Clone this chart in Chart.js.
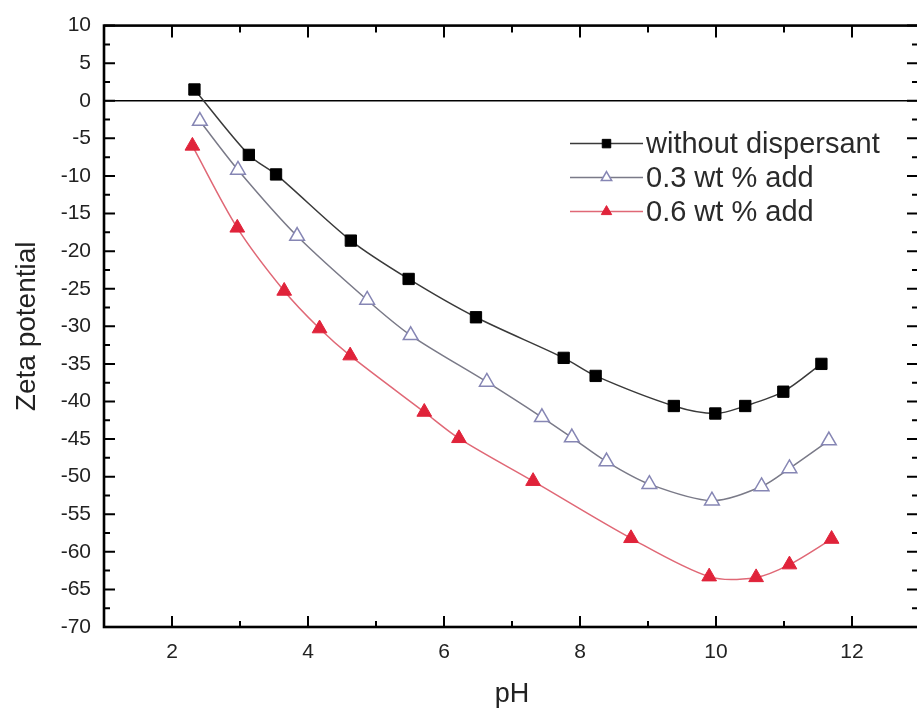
<!DOCTYPE html>
<html>
<head>
<meta charset="utf-8">
<title>Zeta potential vs pH</title>
<script src="https://cdn.jsdelivr.net/npm/chart.js@4.4.1/dist/chart.umd.min.js"></script>
<style>
    html, body { margin: 0; padding: 0; background: #ffffff; overflow: hidden; }
    #zetaChart { display: block; }
</style>
</head>
<body>
<canvas id="zetaChart" width="920" height="712"></canvas>
<script>
// measured points: pH and zeta potential (mV) for each dispersant dose
const seriesNames = ['without dispersant', '0.3 wt % add', '0.6 wt % add'];

const phNone = [2.33, 3.13, 3.53, 4.63, 5.48, 6.47, 7.76, 8.23, 9.38, 9.99, 10.43, 10.99, 11.55];
const zetaNone = [1.5, -7.2, -9.8, -18.6, -23.7, -28.8, -34.2, -36.6, -40.6, -41.6, -40.6, -38.7, -35.0];

const ph03 = [2.41, 2.97, 3.84, 4.87, 5.51, 6.63, 7.44, 7.88, 8.39, 9.02, 9.94, 10.67, 11.08, 11.66];
const zeta03 = [-2.7, -9.2, -18.0, -26.5, -31.2, -37.4, -42.1, -44.8, -48.0, -51.0, -53.2, -51.3, -48.9, -45.2];

const ph06 = [2.30, 2.96, 3.65, 4.17, 4.62, 5.71, 6.22, 7.31, 8.75, 9.90, 10.59, 11.08, 11.70];
const zeta06 = [-6.0, -16.9, -25.3, -30.3, -33.9, -41.4, -44.9, -50.6, -58.2, -63.3, -63.4, -61.7, -58.3];

const xMin = 1, xMax = 13, xStep = 1;
const yMin = -70, yMax = 10, yStep = 5;

const FONT = '"Liberation Sans", Arial, sans-serif';

function toPoints(xs, ys) {
    return xs.map((x, i) => ({ x: x, y: ys[i] }));
}

// zero line under the curves
const zeroLine = {
    id: 'zeroLine',
    beforeDatasetsDraw(chart) {
        const { ctx, chartArea, scales } = chart;
        const y = scales.y.getPixelForValue(0);
        ctx.save();
        ctx.strokeStyle = '#000';
        ctx.lineWidth = 1.6;
        ctx.beginPath();
        ctx.moveTo(chartArea.left, y);
        ctx.lineTo(chartArea.right, y);
        ctx.stroke();
        ctx.restore();
    }
};

// box frame with inward ticks on all four sides
const frameTicks = {
    id: 'frameTicks',
    afterDatasetsDraw(chart) {
        const { ctx, chartArea, scales } = chart;
        const { left, right, top, bottom } = chartArea;
        const majorLen = 11, minorLen = 6;

        ctx.save();
        ctx.strokeStyle = '#000';
        ctx.lineWidth = 2;

        for (let v = xMin; v <= xMax + 1e-9; v += xStep) {
            const px = scales.x.getPixelForValue(v);
            const len = (v % 2 === 0) ? majorLen : minorLen;
            ctx.beginPath();
            ctx.moveTo(px, bottom);
            ctx.lineTo(px, bottom - len);
            ctx.moveTo(px, top);
            ctx.lineTo(px, top + len + 1);
            ctx.stroke();
        }

        for (let v = yMin; v <= yMax + 1e-9; v += yStep / 2) {
            const py = scales.y.getPixelForValue(v);
            const len = (v % yStep === 0) ? majorLen : minorLen;
            ctx.beginPath();
            ctx.moveTo(left, py);
            ctx.lineTo(left + len, py);
            ctx.moveTo(right, py);
            ctx.lineTo(right - len - 2, py);
            ctx.stroke();
        }

        ctx.lineWidth = 2.6;
        ctx.strokeRect(left, top, right - left, bottom - top);
        ctx.restore();
    }
};

// legend with line-marker-line samples
const sampleLegend = {
    id: 'sampleLegend',
    afterDraw(chart) {
        const { ctx, chartArea } = chart;
        const x0 = chartArea.left + 466;
        const y0 = chartArea.top + 118;
        const rowGap = 34;
        const lineLen = 73;

        ctx.save();
        chart.data.datasets.forEach((ds, i) => {
            const y = y0 + i * rowGap;
            ctx.strokeStyle = ds.borderColor;
            ctx.lineWidth = 1.5;
            ctx.beginPath();
            ctx.moveTo(x0, y);
            ctx.lineTo(x0 + lineLen, y);
            ctx.stroke();

            ctx.fillStyle = ds.pointBackgroundColor;
            ctx.strokeStyle = ds.pointBorderColor;
            ctx.lineWidth = ds.pointBorderWidth;
            Chart.helpers.drawPoint(ctx, {
                pointStyle: ds.pointStyle,
                radius: 6,
                rotation: 0,
                borderWidth: ds.pointBorderWidth
            }, x0 + lineLen / 2, y);

            ctx.fillStyle = '#2a2a2a';
            ctx.font = '29px ' + FONT;
            ctx.textBaseline = 'middle';
            ctx.textAlign = 'left';
            ctx.fillText(ds.label, x0 + lineLen + 3, y + 1);
        });
        ctx.restore();
    }
};

const ctx = document.getElementById('zetaChart').getContext('2d');

new Chart(ctx, {
    type: 'line',
    data: {
        datasets: [
            {
                label: seriesNames[0],
                data: toPoints(phNone, zetaNone),
                borderColor: '#3a3a3a',
                borderWidth: 1.5,
                tension: 0.3,
                pointStyle: 'rect',
                pointRadius: 8,
                pointBackgroundColor: '#000000',
                pointBorderColor: '#000000',
                pointBorderWidth: 1
            },
            {
                label: seriesNames[1],
                data: toPoints(ph03, zeta03),
                borderColor: '#7a7a88',
                borderWidth: 1.5,
                tension: 0.3,
                pointStyle: 'triangle',
                pointRadius: 8.5,
                pointBackgroundColor: '#ffffff',
                pointBorderColor: '#8686b4',
                pointBorderWidth: 1.5
            },
            {
                label: seriesNames[2],
                data: toPoints(ph06, zeta06),
                borderColor: '#e06876',
                borderWidth: 1.5,
                tension: 0.3,
                pointStyle: 'triangle',
                pointRadius: 8.5,
                pointBackgroundColor: '#e0233a',
                pointBorderColor: '#e0233a',
                pointBorderWidth: 1
            }
        ]
    },
    options: {
        responsive: false,
        animation: false,
        layout: {
            autoPadding: false,
            padding: { top: 18, right: 0, left: 0, bottom: 0 }
        },
        plugins: {
            legend: { display: false },
            tooltip: { enabled: false }
        },
        scales: {
            x: {
                type: 'linear',
                min: xMin,
                max: xMax,
                grid: { display: false, drawTicks: false },
                border: { display: false },
                ticks: {
                    stepSize: xStep,
                    padding: 13,
                    color: '#222',
                    font: { family: FONT, size: 21 },
                    callback: v => (v % 2 === 0 ? String(v) : '')
                },
                title: {
                    display: true,
                    text: 'pH',
                    color: '#222',
                    font: { family: FONT, size: 27 },
                    padding: { top: 0, bottom: 1 }
                },
                afterFit: scale => {
                    scale.height = 85;
                    scale.paddingLeft = 0;
                    scale.paddingRight = 0;
                }
            },
            y: {
                type: 'linear',
                min: yMin,
                max: yMax,
                grid: { display: false, drawTicks: false },
                border: { display: false },
                ticks: {
                    stepSize: yStep,
                    padding: 13,
                    color: '#222',
                    font: { family: FONT, size: 21 },
                    callback: v => String(v)
                },
                title: {
                    display: true,
                    text: 'Zeta potential',
                    color: '#222',
                    font: { family: FONT, size: 28 },
                    padding: { top: 10, bottom: 0 }
                },
                afterFit: scale => { scale.width = 104; }
            }
        }
    },
    plugins: [zeroLine, frameTicks, sampleLegend]
});
</script>
</body>
</html>
